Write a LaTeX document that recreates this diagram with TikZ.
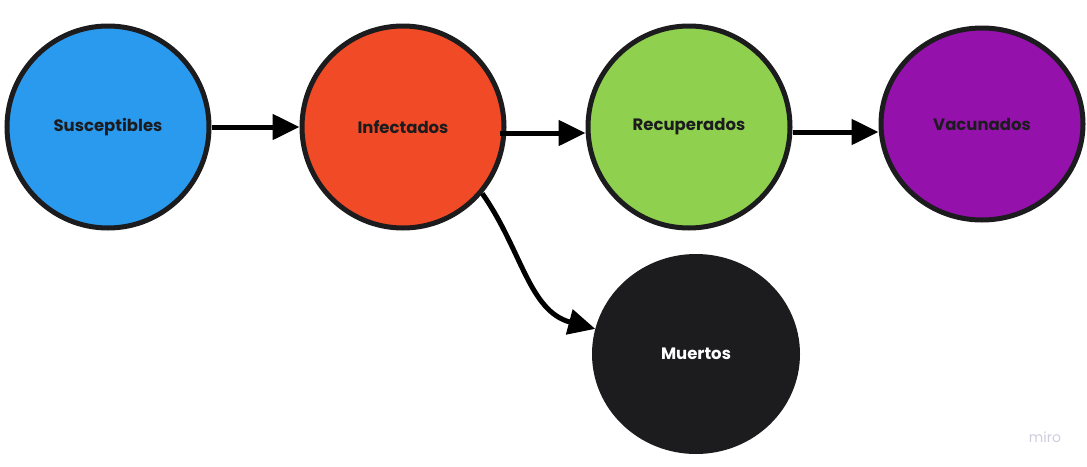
\documentclass[tikz,border=0pt]{standalone}
\usepackage{fontspec}
\setmainfont{Poppins}
\usetikzlibrary{arrows.meta,shapes.geometric}
\definecolor{azul}{HTML}{2A9AEF}
\definecolor{rojo}{HTML}{F14A26}
\definecolor{verde}{HTML}{8FD14F}
\definecolor{morado}{HTML}{9412AB}
\definecolor{borde}{HTML}{1C1C1E}
\definecolor{marcagris}{HTML}{CDCDDC}

\begin{document}
\begin{tikzpicture}[x=1pt,y=-1pt,>={Triangle[length=27pt,width=25pt]},
  estado/.style={ellipse,draw=borde,line width=5pt,inner sep=0pt,
    font=\bfseries\fontsize{16.5}{19}\selectfont,text=borde},
  flecha/.style={->,line width=5pt,black}]
\useasboundingbox (0,0) rectangle (1087,466);
\node[estado,fill=azul,minimum width=202pt,minimum height=202pt] (sus) at (108,127) {Susceptibles};
\node[estado,fill=rojo,minimum width=202pt,minimum height=202pt] (inf) at (403,127) {Infectados};
\node[estado,fill=verde,minimum width=202pt,minimum height=202pt] (rec) at (689,127) {Recuperados};
\node[estado,fill=morado,minimum width=202pt,minimum height=192pt] (vac) at (982,124) {Vacunados};
\node[estado,fill=borde,text=white,minimum width=203pt,minimum height=195pt] (mue) at (696,354) {Muertos};
\draw[flecha] (sus.east) -- (inf.west);
\draw[flecha,shorten <=-7pt] ([yshift=-6pt]inf.east) -- ([yshift=-6pt]rec.west);
\draw[flecha] ([yshift=-5pt]rec.east) -- ([yshift=-8pt]vac.west);
\draw[flecha] (inf.-40) to[out=-55,in=165] (mue.166);
\node[text=marcagris,font=\fontsize{14}{16}\selectfont] (marca) at (1045,437) {miro};
\end{tikzpicture}
\end{document}
